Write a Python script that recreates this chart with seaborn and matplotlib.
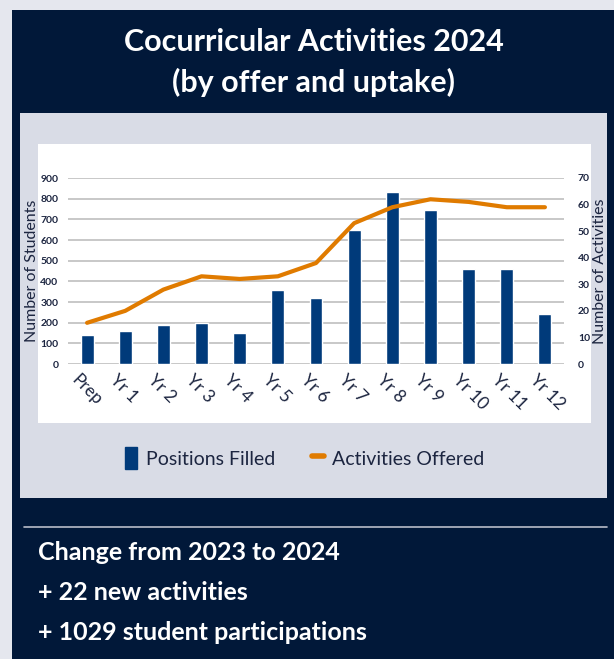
import matplotlib
matplotlib.use("Agg")
import matplotlib.pyplot as plt
import matplotlib.transforms as mtransforms
import seaborn as sns
import pandas as pd
from matplotlib.patches import Rectangle
from matplotlib.lines import Line2D

# chart data
years = ["Prep", "Yr 1", "Yr 2", "Yr 3", "Yr 4", "Yr 5", "Yr 6",
         "Yr 7", "Yr 8", "Yr 9", "Yr 10", "Yr 11", "Yr 12"]
positions_filled = [140, 160, 190, 200, 150, 360, 320, 650, 830, 745, 460, 460, 240]
activities_offered = [15.5, 20, 28, 33, 32, 33, 38, 53, 59, 62, 61, 59, 59]
summary_lines = ["Change from 2023 to 2024", "+ 22 new activities", "+ 1029 student participations"]

df = pd.DataFrame({"Year": years, "Positions": positions_filled, "Activities": activities_offered})

NAVY = "#011839"
BAR = "#003a7a"
LINE = "#e07b00"
PANEL = "#d9dce6"
TEXT = "#1c2540"

sns.set_theme(style="white")
plt.rcParams["font.family"] = ["Lato", "DejaVu Sans"]

W, H = 614, 659
fig = plt.figure(figsize=(W / 100, H / 100), dpi=100)
fig.patch.set_facecolor("#e5e7ee")


def box(x0, y0, x1, y1, color):
    # rectangle in pixel coords (top-left origin)
    fig.add_artist(Rectangle((x0 / W, 1 - y1 / H), (x1 - x0) / W, (y1 - y0) / H,
                             transform=fig.transFigure, facecolor=color, edgecolor="none", zorder=-3))


box(12, 10, 614, 659, NAVY)
box(20, 113, 607, 498, PANEL)
box(38, 144, 591, 423, "white")

fig.text(314 / W, 1 - 42 / H, "Cocurricular Activities 2024", color="white", fontsize=22,
         fontweight="bold", ha="center", va="center")
fig.text(314 / W, 1 - 82 / H, "(by offer and uptake)", color="white", fontsize=22,
         fontweight="bold", ha="center", va="center")

# separator and summary
fig.add_artist(Line2D([24 / W, 607 / W], [1 - 527 / H, 1 - 527 / H], transform=fig.transFigure,
                      color="#b8bcc8", lw=1.2))
for i, txt in enumerate(summary_lines):
    fig.text(38 / W, 1 - (552 + 40 * i) / H, txt, color="white", fontsize=18,
             fontweight="bold", ha="left", va="center")

ax = fig.add_axes([68 / W, 1 - 364 / H, 496 / W, 186 / H])
ax.set_facecolor("none")
sns.barplot(data=df, x="Year", y="Positions", color=BAR, width=0.34, saturation=1, ax=ax, zorder=3)
ax.set_ylim(0, 900)
ax.set_yticks(range(0, 901, 100))
ax.grid(axis="y", color="#c8c8c8", lw=1.4, zorder=0)
ax.set_axisbelow(True)
for s in ax.spines.values():
    s.set_visible(False)
ax.set_xlabel("")
ax.set_ylabel("Number of Students", fontsize=11.5, color=TEXT, labelpad=1)
ax.tick_params(axis="y", length=0, labelsize=7.5, labelcolor=TEXT, pad=7)
for t in ax.get_yticklabels():
    t.set_fontweight("bold")
ax.tick_params(axis="x", length=0, labelsize=12.5, labelcolor=TEXT, pad=0)
shift = mtransforms.ScaledTranslation(-7 / 100, -8 / 100, fig.dpi_scale_trans)
for t in ax.get_xticklabels():
    t.set_rotation(-45)
    t.set_ha("left")
    t.set_va("top")
    t.set_rotation_mode("anchor")
    t.set_transform(t.get_transform() + shift)

ax2 = ax.twinx()
sns.lineplot(data=df, x="Year", y="Activities", color=LINE, lw=3, ax=ax2, sort=False)
ax2.set_ylim(0, 70)
ax2.set_yticks(range(0, 71, 10))
for s in ax2.spines.values():
    s.set_visible(False)
ax2.set_ylabel("Number of Activities", fontsize=11.5, color=TEXT, labelpad=2)
ax2.tick_params(axis="y", length=0, labelsize=7.5, labelcolor=TEXT, pad=10)
for t in ax2.get_yticklabels():
    t.set_fontweight("bold")
ax.set_xlim(-0.5, len(years) - 0.5)

handles = [Rectangle((0, 0), 1, 1, color=BAR),
           Line2D([0], [0], color=LINE, lw=4)]
fig.legend(handles, ["Positions Filled", "Activities Offered"], loc="center",
           bbox_to_anchor=(305 / W, 1 - 458 / H), ncol=2, frameon=False, fontsize=14,
           labelcolor=TEXT, handlelength=0.6, handleheight=1.3, handletextpad=0.45,
           columnspacing=1.9)

fig.savefig("out.png", dpi=100)
